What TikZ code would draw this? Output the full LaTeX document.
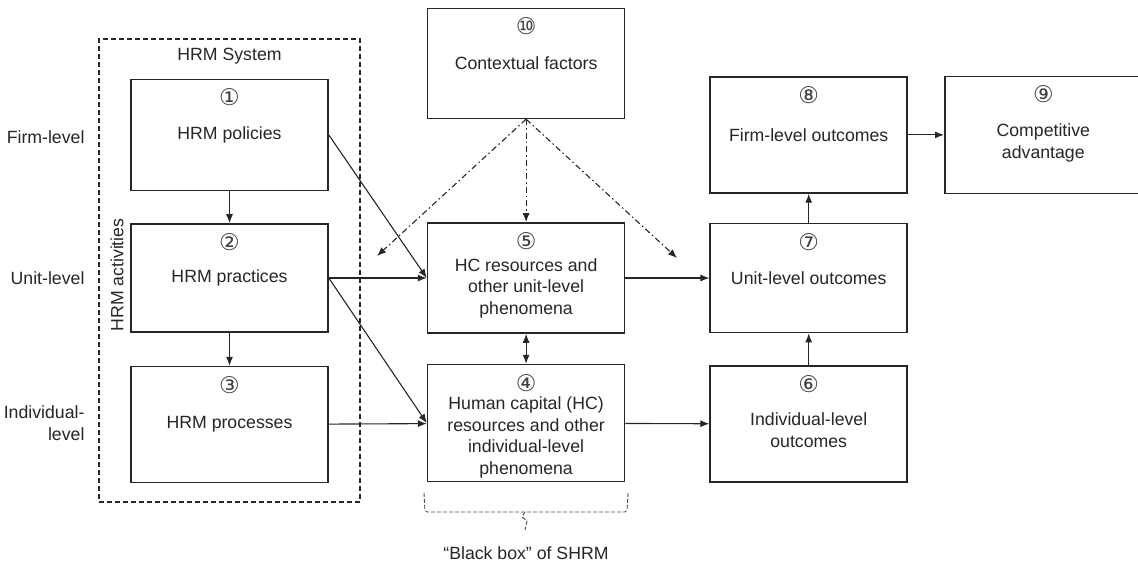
\documentclass[tikz,border=0pt]{standalone}
\usepackage{fontspec}
\setmainfont{Liberation Sans}
\newfontfamily\circfont{DejaVu Sans}
\usetikzlibrary{arrows.meta, positioning, calc}

\newcommand{\cnum}[1]{{\circfont\fontsize{23}{23}\selectfont #1}}

\begin{document}
\begin{tikzpicture}[x=1pt, y=-1pt, >={Latex[length=9pt,width=7pt]}, font=\fontsize{17.7}{21.5}\selectfont]
        % Styles
        \tikzstyle{block} = [rectangle, draw=black!85, line width=1.6pt, minimum width=197pt, inner sep=2pt, align=center, text=black!85]
        \tikzstyle{num} = [anchor=center, yshift=-19pt, inner sep=0pt, text=black!75]
        \tikzstyle{line} = [draw=black!85, line width=1.1pt, ->]
        \tikzstyle{context} = [draw=black!85, line width=1.1pt, ->, dash pattern=on 6pt off 3pt on 1.5pt off 3pt]
        \tikzstyle{sysbox} = [rectangle, draw=black!85, line width=1.3pt, dash pattern=on 5pt off 3pt]
        \tikzstyle{level} = [anchor=east, align=right, text=black!85]

        \useasboundingbox (0,0) rectangle (1138,565);

        % HRM system (left column)
        \node (practices) [block, minimum height=108pt, label={[num]north:\cnum{②}}] at (229.5,278) {HRM practices};
        \node (policies) [block, minimum height=111pt, above=32pt of practices, label={[num]north:\cnum{①}}] {HRM policies};
        \node (processes) [block, minimum height=116pt, below=33pt of practices, label={[num]north:\cnum{③}}] {HRM processes};
        \node (system) [sysbox, minimum width=261pt, minimum height=463pt] at (229.5,270.5) {};
        \node (hrmsys) [text=black!85] at (229.5,56) {HRM System};
        \node (activities) [rotate=90, text=black!85] at (117,275) {HRM activities};

        % Levels
        \node (firm) [level] at (88,137) {Firm-level};
        \node (unit) [level] at (88,278) {Unit-level};
        \node (indiv) [level] at (88,423) {Individual-\\level};

        % Black box
        \node (hc) [block, minimum height=110pt, right=98pt of practices, label={[num]north:\cnum{⑤}}] {\\[12pt]HC resources and\\other unit-level\\phenomena};
        \node (ctx) [block, minimum height=110pt, above=103pt of hc, label={[num]north:\cnum{⑩}}] {Contextual factors};
        \node (hcind) [block, minimum height=117pt, below=30pt of hc, label={[num]north:\cnum{④}}] {\\[20pt]Human capital (HC)\\resources and other\\individual-level\\phenomena};
        \node (blackbox) [text=black!85] at (526,553) {“Black box” of SHRM};

        % Outcomes
        \node (unitout) [block, minimum height=109pt, right=84pt of hc, label={[num]north:\cnum{⑦}}] {Unit-level outcomes};
        \node (firmout) [block, minimum height=116pt, above=29pt of unitout, label={[num]north:\cnum{⑧}}] {Firm-level outcomes};
        \node (indout) [block, minimum height=116pt, below=32pt of unitout, label={[num]north:\cnum{⑥}}] {\\[3pt]Individual-level\\outcomes};
        \node (compadv) [block, minimum height=117pt, right=36pt of firmout, label={[num]north:\cnum{⑨}}] {\\[7pt]Competitive\\advantage};

        % Edges
        \path [line] (policies) -- (practices);
        \path [line] (practices) -- (processes);
        \path [line] (policies.east) -- (hc.west);
        \path [line] (practices.east) -- (hc.west);
        \path [line] (practices.east) -- (hcind.west);
        \path [line] (processes) -- (hcind);
        \path [line, <->] (hc) -- (hcind);
        \path [line] (hc) -- (unitout);
        \path [line] (hcind) -- (indout);
        \path [line] (indout) -- (unitout);
        \path [line] (unitout) -- (firmout);
        \path [line] (firmout) -- (compadv);

        % Contextual factors
        \coordinate (ctxleft) at (377,256);
        \coordinate (ctxright) at (677,258);
        \path [context] (ctx.south) -- (ctxleft);
        \path [context] (ctx.south) -- (hc.north);
        \path [context] (ctx.south) -- (ctxright);

        % Brace under the black box
        \draw [black!70, line width=0.9pt, dash pattern=on 4pt off 2pt, rounded corners=2pt] (424,493) -- (425,512) -- (627,512) -- (628,493);
        \draw [black!70, line width=0.9pt, dash pattern=on 4pt off 2pt] (525,512) -- (522,517) -- (527,521) -- (525,530);
\end{tikzpicture}
\end{document}
